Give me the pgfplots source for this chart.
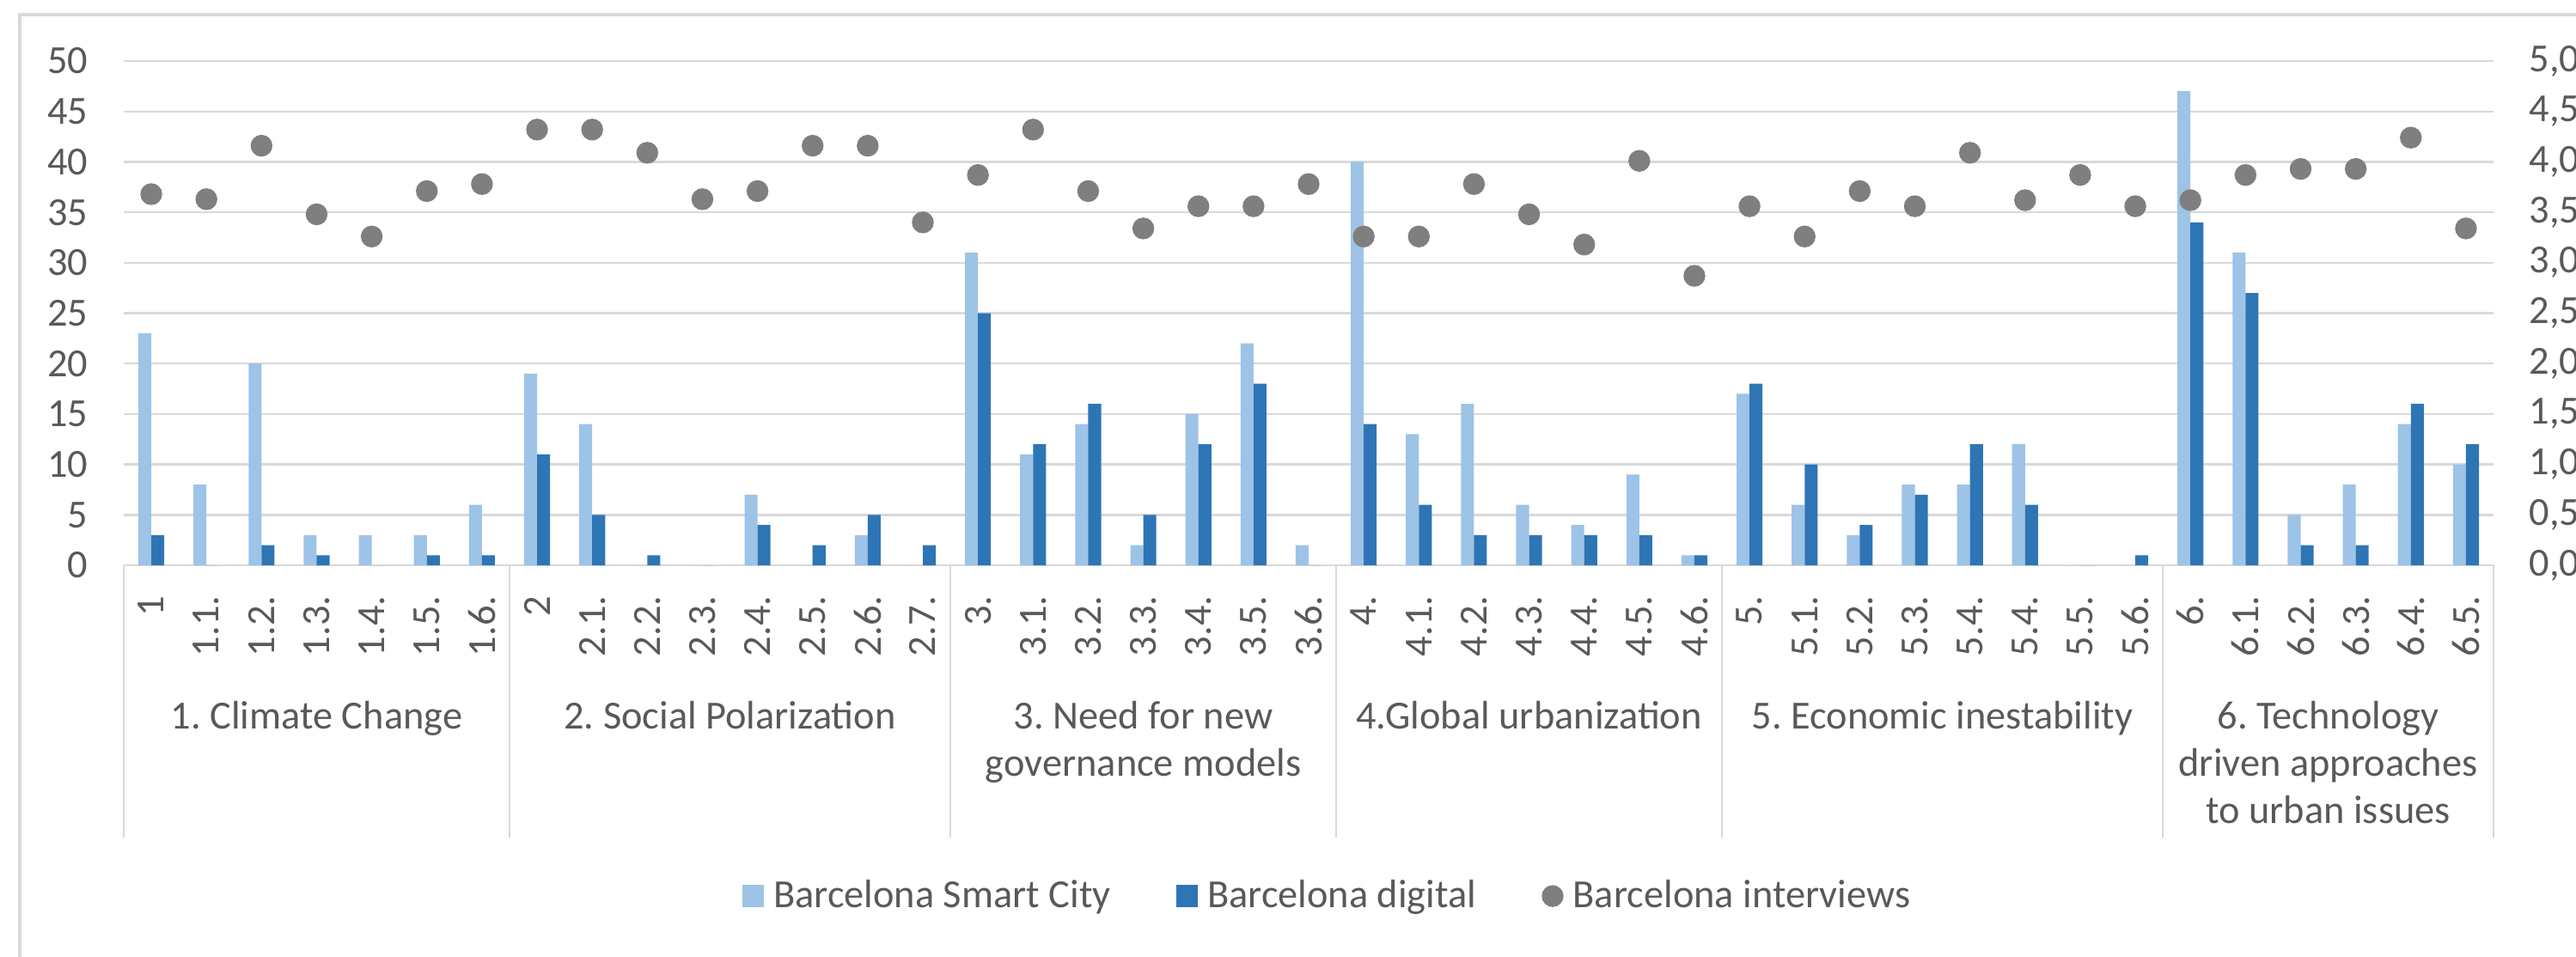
\documentclass[border=0pt]{standalone}
\usepackage{fontspec}
\setmainfont{Carlito}
\usepackage{pgfplots}
\usepackage{pgfplotstable}
\pgfplotsset{compat=1.18}
\definecolor{lightb}{HTML}{9DC3E6}
\definecolor{darkb}{HTML}{2E75B6}
\definecolor{dotg}{HTML}{7F7F7F}
\definecolor{gridg}{HTML}{D9D9D9}
\definecolor{txt}{HTML}{595959}
\newcommand\cf{\fontsize{13.2}{15.6}\selectfont\frenchspacing}

\pgfplotstableread{
x sc dig int
0 23 3 3.68
1 8 0 3.63
2 20 2 4.16
3 3 1 3.48
4 3 0 3.26
5 3 1 3.71
6 6 1 3.78
7 19 11 4.32
8 14 5 4.32
9 0 1 4.09
10 0 0 3.63
11 7 4 3.71
12 0 2 4.16
13 3 5 4.16
14 0 2 3.40
15 31 25 3.87
16 11 12 4.32
17 14 16 3.71
18 2 5 3.34
19 15 12 3.56
20 22 18 3.56
21 2 0 3.78
22 40 14 3.26
23 13 6 3.26
24 16 3 3.78
25 6 3 3.48
26 4 3 3.18
27 9 3 4.01
28 1 1 2.87
29 17 18 3.56
30 6 10 3.26
31 3 4 3.71
32 8 7 3.56
33 8 12 4.09
34 12 6 3.62
35 0 0 3.87
36 0 1 3.56
37 47 34 3.62
38 31 27 3.87
39 5 2 3.93
40 8 2 3.93
41 14 16 4.24
42 10 12 3.34
}\data

\pgfplotsset{common/.style={
  scale only axis, width=275.8mm, height=58.7mm,
  at={(0,0)}, anchor=south west,
  xmin=-0.5, xmax=42.5,
  major tick length=0pt,
  tick style={draw=none},
  ticklabel style={font=\cf, text=txt},
  /pgf/number format/assume math mode=true,
}}

\begin{document}
\frenchspacing
\begin{tikzpicture}
\begin{axis}[common,
  ymin=0, ymax=50, ytick={0,5,10,15,20,25,30,35,40,45,50},
  axis x line*=bottom, axis y line*=left,
  y axis line style={draw=none},
  x axis line style={draw=gridg, line width=0.27mm, -},
  ymajorgrids, grid style={draw=gridg, line width=0.24mm},
  xtick={0,...,42},
  xticklabels={1,1.1.,1.2.,1.3.,1.4.,1.5.,1.6.,2,2.1.,2.2.,2.3.,2.4.,2.5.,2.6.,2.7.,3.,3.1.,3.2.,3.3.,3.4.,3.5.,3.6.,4.,4.1.,4.2.,4.3.,4.4.,4.5.,4.6.,5.,5.1.,5.2.,5.3.,5.4.,5.4.,5.5.,5.6.,6.,6.1.,6.2.,6.3.,6.4.,6.5.},
  xticklabel style={rotate=90, anchor=east, inner sep=0pt},
  xticklabel shift=3.5mm,
  yticklabel style={anchor=east, inner sep=0pt},
  yticklabel shift=4.1mm,
  clip=false,
]
\addplot[ybar, bar width=0.235, bar shift=-0.1175, fill=lightb, draw=none] table[x=x,y=sc]{\data};
\addplot[ybar, bar width=0.235, bar shift=0.1175, fill=darkb, draw=none] table[x=x,y=dig]{\data};
\pgfplotsinvokeforeach{-0.5,6.5,14.5,21.5,28.5,36.5,42.5}{
  \draw[gridg, line width=0.2mm] (axis cs:#1,0) -- ++(0mm,-31.7mm);
}
\node[anchor=north, align=center, font=\cf, text=txt, inner sep=0pt, yshift=-15.8mm] at (axis cs:3,0) {1. Climate Change};
\node[anchor=north, align=center, font=\cf, text=txt, inner sep=0pt, yshift=-15.8mm] at (axis cs:10.5,0) {2. Social Polarization};
\node[anchor=north, align=center, font=\cf, text=txt, inner sep=0pt, yshift=-15.8mm] at (axis cs:18,0) {3. Need for new\\governance models};
\node[anchor=north, align=center, font=\cf, text=txt, inner sep=0pt, yshift=-15.8mm] at (axis cs:25,0) {4.Global urbanization};
\node[anchor=north, align=center, font=\cf, text=txt, inner sep=0pt, yshift=-15.8mm] at (axis cs:32.5,0) {5. Economic inestability};
\node[anchor=north, align=center, font=\cf, text=txt, inner sep=0pt, yshift=-15.8mm] at (axis cs:39.5,0) {6. Technology\\driven approaches\\to urban issues};
\end{axis}
\begin{axis}[common,
  ymin=0, ymax=5, ytick={0,0.5,1,1.5,2,2.5,3,3.5,4,4.5,5},
  axis y line*=right, axis x line=none,
  y axis line style={draw=none},
  yticklabel style={anchor=west, inner sep=0pt,
    /pgf/number format/.cd, fixed, fixed zerofill, precision=1, use comma},
  yticklabel shift=4.1mm,
  clip=false,
  legend columns=3,
  legend style={at={(0.2607,-0.656)}, anchor=west, draw=none, fill=none,
    inner sep=0pt, nodes={inner sep=0pt, font=\cf, text=txt},
    /tikz/every even column/.append style={column sep=7.6mm},
    /tikz/every odd column/.append style={column sep=1.1mm}},
]
\addlegendimage{legend image code/.code={\fill[lightb] (0mm,-1.25mm) rectangle (2.4mm,1.25mm);}}
\addlegendentry{Barcelona Smart City}
\addlegendimage{legend image code/.code={\fill[darkb] (0mm,-1.25mm) rectangle (2.4mm,1.25mm);}}
\addlegendentry{Barcelona digital}
\addplot[only marks, mark=*, mark size=1.2mm, color=dotg, mark options={fill=dotg, draw=none},
  legend image code/.code={\fill[dotg] (1.2mm,0mm) circle (1.2mm);}] table[x=x,y=int]{\data};
\addlegendentry{Barcelona interviews}
\end{axis}
\pgfresetboundingbox
\path[use as bounding box] (-14.4mm,-45.5mm) rectangle (285.4mm,65.8mm);
\draw[gridg, line width=0.4mm] (-12.1mm,-60mm) -- (-12.1mm,64.1mm) -- (300mm,64.1mm);
\end{tikzpicture}
\end{document}
